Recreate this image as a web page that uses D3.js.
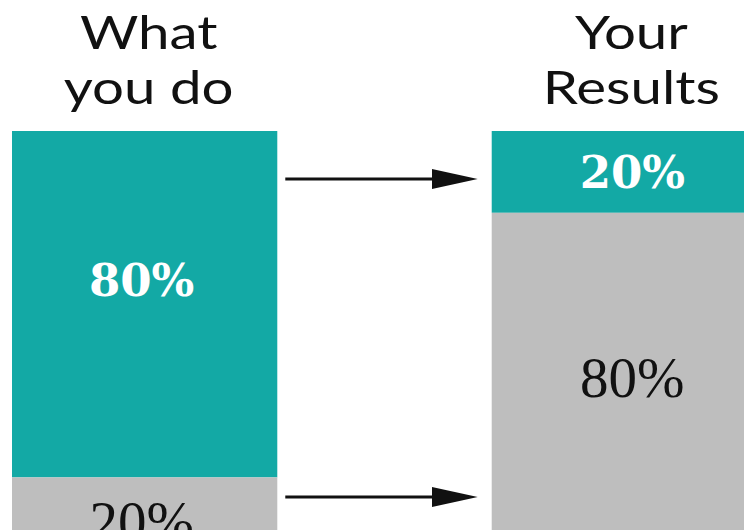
<!DOCTYPE html>
<html>
<head>
<meta charset="utf-8">
<script src="https://cdn.jsdelivr.net/npm/d3@7/dist/d3.min.js"></script>
<style>
  html, body { margin: 0; padding: 0; background: #fff; }
  svg { display: block; }
</style>
</head>
<body>
<svg id="chart" width="744" height="530"></svg>
<script>
// data
const columns = ["What you do", "Your Results"];
const titleLines = [["What", "you do"], ["Your", "Results"]];
const teal = [80, 20];   // top segment
const gray = [20, 80];   // bottom segment
const labels = [["80%", "20%"], ["20%", "80%"]];

const svg = d3.select("#chart");

const tealColor = "#13a9a5";
const grayColor = "#bebebe";

// bars run off the bottom of the picture
const x = d3.scaleBand().domain(columns).range([12, 757]).paddingInner(0.447).paddingOuter(0);
const bottoms = [564, 540];
const yScales = bottoms.map(b => d3.scaleLinear().domain([0, 100]).range([b, 131]));

const rows = columns.map((c, i) => ({
  col: c, i,
  segs: [
    { key: "teal", v0: 100 - teal[i], v1: 100, fill: tealColor, label: labels[i][0] },
    { key: "gray", v0: 0, v1: gray[i], fill: grayColor, label: labels[i][1] }
  ]
}));

const colG = svg.selectAll(".col")
  .data(rows)
  .join("g")
  .attr("class", "col");

colG.selectAll("rect")
  .data(d => d.segs.map(s => ({ ...s, i: d.i, col: d.col })))
  .join("rect")
  .attr("x", d => x(d.col))
  .attr("width", x.bandwidth())
  .attr("y", d => yScales[d.i](d.v1))
  .attr("height", d => yScales[d.i](d.v0) - yScales[d.i](d.v1))
  .attr("fill", d => d.fill);

// segment labels (the big left one sits a bit above its middle)
colG.selectAll("text.lbl")
  .data(d => d.segs.map(s => ({ ...s, i: d.i, col: d.col })))
  .join("text")
  .attr("class", "lbl")
  .attr("x", d => x(d.col) + x.bandwidth() / 2 + (d.i === 1 ? 8 : -3))
  .attr("y", d => (yScales[d.i](d.v0) + yScales[d.i](d.v1)) / 2 + (d.i === 0 && d.key === "teal" ? -24 : 0))
  .attr("dy", "0.36em")
  .attr("text-anchor", "middle")
  .attr("fill", d => d.key === "teal" ? "#fff" : "#111")
  .style("font-family", d => d.key === "teal" ? "'DejaVu Serif', serif" : "'Liberation Serif', 'Times New Roman', serif")
  .style("font-weight", d => d.key === "teal" ? "bold" : "normal")
  .style("font-size", d => d.key === "teal" ? "45px" : "57px")
  .text(d => d.label);

// column titles, stretched a little to get the wide lettering
const titleG = svg.selectAll(".title")
  .data(titleLines)
  .join("text")
  .attr("class", "title")
  .attr("transform", (d, i) => `translate(${x(columns[i]) + x.bandwidth() / 2 + (i === 1 ? 7 : 4)},0) scale(1.2,1)`)
  .attr("text-anchor", "middle")
  .style("font-family", "Lato, 'Open Sans', sans-serif")
  .style("font-size", "47px")
  .attr("fill", "#111");

titleG.selectAll("tspan")
  .data(d => d.map((t, j) => ({ t, j })))
  .join("tspan")
  .attr("x", 0)
  .attr("y", d => 49 + d.j * 55)
  .text(d => d.t);

// arrows between columns, one per segment
const headLen = 46, headH = 20;
svg.append("defs").append("marker")
  .attr("id", "head")
  .attr("viewBox", `0 0 ${headLen} ${headH}`)
  .attr("refX", headLen - 20).attr("refY", headH / 2)
  .attr("markerWidth", headLen).attr("markerHeight", headH)
  .attr("markerUnits", "userSpaceOnUse")
  .attr("orient", "auto")
  .append("path")
  .attr("d", `M0,0 L${headLen},${headH / 2} L0,${headH} Z`)
  .attr("fill", "#111");

const arrowYs = [179, 497];
const x0 = x(columns[0]) + x.bandwidth() + 8;
const tip = x(columns[1]) - 14;
svg.selectAll(".arrow")
  .data(arrowYs)
  .join("line")
  .attr("class", "arrow")
  .attr("x1", x0).attr("x2", tip - 20)
  .attr("y1", d => d).attr("y2", d => d)
  .attr("stroke", "#111")
  .attr("stroke-width", 3)
  .attr("marker-end", "url(#head)");
</script>
</body>
</html>
